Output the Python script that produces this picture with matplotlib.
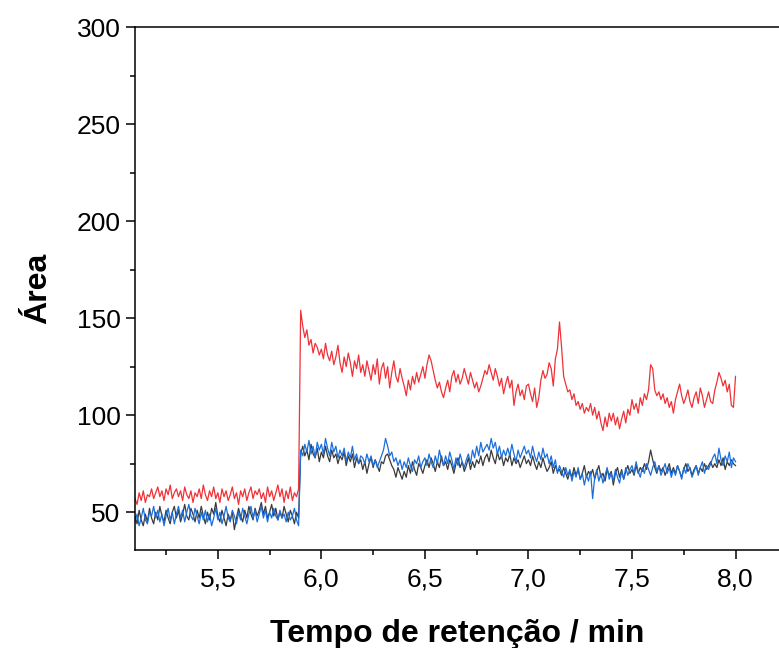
import numpy as np
import matplotlib
matplotlib.use("Agg")
import matplotlib.pyplot as plt
from matplotlib.ticker import MultipleLocator, FuncFormatter

plt.rcParams['font.family'] = ['Liberation Sans', 'DejaVu Sans']

# ------------------------
# Data (0.01 min steps from 5.10 to 8.00)
# ------------------------
t_start, t_end = 5.10, 8.00

red = [
    57, 54, 60, 56, 61, 55, 59, 58, 62, 57,
    60, 63, 58, 61, 56, 62, 59, 64, 57, 60,
    62, 58, 61, 56, 63, 59, 57, 61, 55, 60,
    58, 62, 57, 64, 59, 56, 61, 58, 63, 57,
    60, 55, 62, 58, 61, 56, 59, 63, 57, 60,
    54, 61, 58, 62, 56, 60, 63, 57, 61, 59,
    62, 57, 60, 55, 63, 58, 61, 56, 60, 64,
    58, 62, 55, 61, 57, 63, 56, 60, 58, 62,
    154, 146, 140, 144, 136, 139, 132, 137, 135, 131,
    134, 129, 137, 131, 128, 133, 126, 130, 136, 127,
    122, 130, 125, 132, 127, 120, 128, 124, 131, 122,
    126, 120, 128, 123, 118, 126, 121, 129, 116, 124,
    127, 119, 125, 114, 122, 128, 120, 117, 124, 119,
    115, 110, 118, 113, 120, 116, 122, 117, 121, 125,
    119, 126, 131, 128, 123, 118, 114, 117, 112, 109,
    114, 118, 112, 120, 123, 117, 121, 116, 119, 124,
    120, 116, 122, 118, 114, 117, 112, 115, 119, 123,
    121, 126, 122, 118, 124, 120, 115, 119, 111, 116,
    120, 114, 118, 105, 112, 116, 110, 113, 108, 115,
    116, 111, 107, 114, 104, 109, 118, 123, 119, 121,
    127, 124, 115, 129, 134, 148, 135, 120, 116, 112,
    113, 108, 111, 105, 107, 103, 106, 101, 104, 102,
    106, 100, 104, 98, 102, 96, 92, 99, 94, 101,
    97, 101, 95, 99, 93, 98, 102, 96, 103, 100,
    108, 103, 106, 101, 109, 105, 111, 108, 113, 126,
    124, 113, 110, 112, 108, 111, 106, 109, 104, 107,
    101, 108, 112, 116, 110, 106, 109, 113, 107, 104,
    109, 112, 106, 114, 110, 104, 108, 112, 107, 106,
    113, 117, 122, 119, 115, 118, 112, 116, 105, 104,
    120,
]

black = [
    48, 44, 51, 46, 43, 49, 45, 52, 47, 44,
    50, 46, 53, 48, 45, 51, 47, 44, 50, 53,
    47, 51, 45, 49, 54, 48, 46, 52, 49, 45,
    51, 47, 53, 48, 44, 50, 46, 52, 49, 55,
    48, 45, 51, 47, 43, 49, 46, 50, 41, 47,
    52, 48, 45, 51, 47, 53, 49, 46, 52, 48,
    51, 55, 49, 53, 47, 50, 54, 48, 52, 46,
    50, 47, 53, 49, 45, 51, 48, 44, 50, 47,
    80, 84, 79, 82, 77, 85, 80, 78, 83, 76,
    81, 78, 84, 79, 76, 82, 78, 80, 75, 79,
    77, 81, 74, 79, 76, 80, 73, 78, 75, 77,
    72, 76, 70, 75, 78, 73, 77, 74, 71, 76,
    75, 79, 80, 77, 74, 72, 68, 73, 70, 67,
    71, 68, 74, 70, 76, 72, 69, 75, 73, 70,
    74, 77, 73, 78, 75, 71, 76, 73, 79, 74,
    76, 72, 77, 74, 70, 75, 78, 73, 76, 71,
    74, 78, 72, 76, 73, 77, 75, 79, 74, 78,
    80, 76, 82, 78, 75, 81, 77, 79, 74, 78,
    76, 80, 74, 78, 75, 77, 73, 76, 79, 75,
    77, 74, 79, 75, 72, 76, 73, 78, 74, 71,
    73, 76, 70, 74, 71, 72, 69, 73, 70, 67,
    71, 68, 73, 69, 72, 67, 70, 74, 68, 71,
    69, 72, 67, 71, 74, 68, 70, 66, 72, 69,
    71, 64, 70, 73, 68, 72, 67, 71, 74, 70,
    72, 69, 74, 70, 73, 71, 75, 72, 76, 82,
    77, 73, 70, 74, 71, 73, 69, 72, 75, 70,
    73, 70, 74, 71, 68, 72, 75, 71, 73, 69,
    72, 74, 70, 73, 71, 75, 72, 74, 76, 73,
    75, 73, 77, 74, 78, 72, 76, 74, 77, 75,
    74,
]

blue = [
    45, 49, 43, 47, 52, 46, 44, 50, 48, 53,
    47, 51, 45, 49, 43, 48, 52, 46, 50, 44,
    49, 53, 47, 51, 45, 50, 54, 48, 46, 52,
    48, 44, 50, 46, 51, 45, 49, 43, 47, 52,
    46, 50, 44, 48, 53, 47, 45, 51, 48, 44,
    50, 46, 52, 48, 44, 49, 53, 47, 51, 45,
    49, 53, 47, 51, 45, 50, 47, 52, 48, 46,
    51, 47, 49, 45, 50, 46, 48, 52, 46, 43,
    82, 79, 85, 81, 87, 80, 84, 78, 86, 82,
    85, 80, 88, 83, 79, 86, 81, 84, 78, 82,
    79, 83, 76, 81, 78, 84, 77, 80, 75, 79,
    78, 75, 80, 76, 79, 74, 77, 73, 76, 79,
    82, 88, 84, 79, 81, 76, 78, 74, 77, 72,
    76, 73, 78, 74, 71, 77, 75, 79, 73, 76,
    78, 74, 80, 76, 73, 79, 75, 82, 77, 74,
    79, 75, 81, 77, 72, 78, 74, 80, 76, 73,
    77, 80, 75, 82, 78, 84, 79, 86, 81, 83,
    85, 82, 88, 83, 86, 80, 84, 78, 82, 79,
    83, 79, 85, 80, 76, 82, 78, 81, 84, 80,
    82, 78, 84, 79, 76, 81, 77, 83, 78, 80,
    75, 79, 73, 77, 70, 74, 71, 68, 73, 69,
    72, 66, 71, 68, 73, 67, 70, 64, 69, 66,
    71, 57, 68, 72, 66, 70, 65, 69, 73, 67,
    70, 66, 72, 68, 65, 71, 67, 73, 69, 72,
    74, 70, 76, 71, 68, 73, 70, 75, 72, 69,
    73, 76, 71, 74, 69, 72, 75, 70, 73, 68,
    72, 69, 74, 71, 67, 73, 70, 75, 72, 68,
    71, 74, 69, 73, 76, 70, 74, 72, 75, 78,
    80, 75, 83, 77, 74, 79, 76, 81, 73, 78,
    76,
]

x_ticks = [5.5, 6.0, 6.5, 7.0, 7.5, 8.0]
y_ticks = [50, 100, 150, 200, 250, 300]

t = np.linspace(t_start, t_end, len(red))

# ------------------------
# Plot
# ------------------------
fig = plt.figure(figsize=(7.79, 6.48), dpi=100)
ax = fig.add_axes([0.1733, 0.1512, 0.8267, 0.8071])

ax.plot(t, red, color="#ee3238", lw=0.9)
ax.plot(t, black, color="#3a3a3a", lw=0.9)
ax.plot(t, blue, color="#1a6fdc", lw=0.9)

ax.set_xlim(5.10, 8.21)
ax.set_ylim(30.5, 300)

ax.set_xticks(x_ticks)
ax.set_yticks(y_ticks)
ax.xaxis.set_minor_locator(MultipleLocator(0.25))
ax.yaxis.set_minor_locator(MultipleLocator(25))
ax.xaxis.set_major_formatter(FuncFormatter(lambda v, p: f"{v:.1f}".replace(".", ",")))

ax.spines["right"].set_visible(False)
for s in ["left", "top", "bottom"]:
    ax.spines[s].set_linewidth(1.1)

ax.tick_params(which="major", direction="out", length=6.5, width=1.1, labelsize=19, pad=4)
ax.tick_params(axis="x", which="major", pad=6)
ax.tick_params(which="minor", direction="out", length=3.5, width=1.1)
ax.tick_params(top=False, right=False, which="both")

ax.set_xlabel("Tempo de retenção / min", fontsize=23, fontweight="bold", labelpad=20)
ax.set_ylabel("Área", fontsize=23, fontweight="bold", labelpad=17)

fig.savefig("out.png", dpi=100)
